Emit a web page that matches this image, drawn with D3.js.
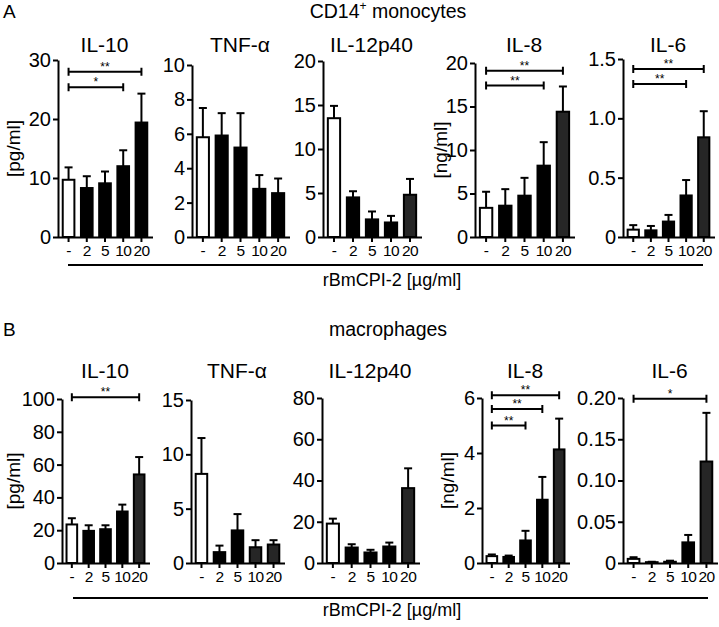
<!DOCTYPE html>
<html>
<head>
<meta charset="utf-8">
<script src="https://cdn.jsdelivr.net/npm/d3@7"></script>
<style>
  body { margin: 0; background: #fff; }
  svg { font-family: Arial, "Liberation Sans", sans-serif; }
</style>
</head>
<body>
<div id="chart"></div>
<script>
// doses of rBmCPI-2 (x categories) and the measured cytokines
const doses = ["-", "2", "5", "10", "20"];
const cytokines = ["IL-10", "TNF-α", "IL-12p40", "IL-8", "IL-6"];
const units = ["[pg/ml]", null, null, "[ng/ml]", null];

// A : CD14+ monocytes
const monoMeans = [
    [9.7, 8.3, 9.1, 12.0, 19.4],
    [5.8, 5.9, 5.2, 2.8, 2.55],
    [13.5, 4.5, 2.0, 1.65, 4.8],
    [3.35, 3.6, 4.75, 8.2, 14.4],
    [0.062, 0.056, 0.13, 0.35, 0.84]
];
const monoErr = [
    [11.8, 10.3, 11.1, 14.7, 24.3],
    [7.5, 7.2, 7.2, 3.6, 3.4],
    [14.9, 5.2, 2.9, 2.4, 6.6],
    [5.2, 5.5, 6.8, 10.9, 17.3],
    [0.10, 0.093, 0.186, 0.48, 1.06]
];
const monoTicks = [[0, 10, 20, 30], [0, 2, 4, 6, 8, 10], [0, 5, 10, 15, 20], [0, 5, 10, 15, 20], [0, 0.5, 1.0, 1.5]];
const monoTickLabels = [["0", "10", "20", "30"], ["0", "2", "4", "6", "8", "10"], ["0", "5", "10", "15", "20"],
    ["0", "5", "10", "15", "20"], ["0", "0.5", "1.0", "1.5"]];
const monoSig = [
    [{ from: 0, to: 4, y: 28.0, label: "**" }, { from: 0, to: 3, y: 25.4, label: "*" }],
    [], [],
    [{ from: 0, to: 4, y: 19.1, label: "**" }, { from: 0, to: 3, y: 17.4, label: "**" }],
    [{ from: 0, to: 4, y: 1.415, label: "**" }, { from: 0, to: 3, y: 1.29, label: "**" }]
];

// B : macrophages
const macroMeans = [
    [23.5, 19.6, 20.6, 31.4, 54.0],
    [8.2, 1.0, 3.0, 1.45, 1.7],
    [19.1, 7.5, 5.1, 8.0, 36.3],
    [0.25, 0.22, 0.82, 2.3, 4.13],
    [0.005, 0.001, 0.0015, 0.025, 0.123]
];
const macroErr = [
    [27.3, 23.0, 23.0, 35.6, 64.6],
    [11.5, 1.6, 4.5, 2.1, 2.1],
    [21.5, 9.1, 6.4, 9.9, 45.9],
    [0.31, 0.27, 1.17, 3.13, 5.25],
    [0.007, 0.0015, 0.0028, 0.034, 0.182]
];
const macroTicks = [[0, 20, 40, 60, 80, 100], [0, 5, 10, 15], [0, 20, 40, 60, 80], [0, 2, 4, 6], [0, 0.05, 0.10, 0.15, 0.20]];
const macroTickLabels = [["0", "20", "40", "60", "80", "100"], ["0", "5", "10", "15"], ["0", "20", "40", "60", "80"],
    ["0", "2", "4", "6"], ["0", "0.05", "0.10", "0.15", "0.20"]];
const macroSig = [
    [{ from: 0, to: 4, y: 101, label: "**" }],
    [], [],
    [{ from: 0, to: 4, y: 6.1, label: "**" }, { from: 0, to: 3, y: 5.6, label: "**" }, { from: 0, to: 2, y: 5.0, label: "**" }],
    [{ from: 0, to: 4, y: 0.199, label: "*" }]
];

// layout
const width = 719;
const height = 627;

const rows = [
    {
        letter: "A", titleY: 18, subY: 52,
        axisX: [58, 192, 323, 475, 623], plotW: [93, 96, 97, 98, 90],
        top: [60, 65, 61, 63, 59], bottom: 237,
        lineY: 265, lineX: [68, 703], xlabY: 286, unitX: [13, 440],
        means: monoMeans, err: monoErr, ticks: monoTicks, tickLabels: monoTickLabels, sig: monoSig,
        grey: [[], [], [4], [4], [4]]
    },
    {
        letter: "B", titleY: 336, subY: 378,
        axisX: [62, 191, 322, 482, 623], plotW: [86, 92, 96, 86, 93],
        top: [399, 400, 398, 398, 398], bottom: 563,
        lineY: 598, lineX: [73, 708], xlabY: 616, unitX: [13, 447],
        means: macroMeans, err: macroErr, ticks: macroTicks, tickLabels: macroTickLabels, sig: macroSig,
        grey: [[4], [3, 4], [4], [4], [4]]
    }
];

const svg = d3.select("#chart").append("svg")
    .attr("width", width)
    .attr("height", height)
    .attr("viewBox", [0, 0, width, height]);

rows.forEach((row, r) => {
    // panel letter
    svg.append("text")
        .attr("x", 3)
        .attr("y", row.titleY)
        .attr("font-size", 19)
        .text(row.letter);

    // panel title
    const t = svg.append("text")
        .attr("x", 388)
        .attr("y", row.titleY)
        .attr("text-anchor", "middle")
        .attr("font-size", 19.5);
    if (r === 0) {
        t.append("tspan").text("CD14");
        t.append("tspan").attr("font-size", 12).attr("dy", -8).text("+");
        t.append("tspan").attr("dy", 8).text(" monocytes");
    } else {
        t.text("macrophages");
    }

    cytokines.forEach((name, i) => {
        const x0 = row.axisX[i];
        const x = d3.scaleBand()
            .domain(doses)
            .range([x0 + 1, x0 + row.plotW[i]])
            .paddingInner(0.25)
            .paddingOuter(0.15);

        const ticks = row.ticks[i];
        const y = d3.scaleLinear()
            .domain([0, ticks[ticks.length - 1]])
            .range([row.bottom, row.top[i]]);

        const g = svg.append("g");

        const data = doses.map((d, j) => ({ dose: d, j: j, mean: row.means[i][j], err: row.err[i][j] }));
        const cx = d => x(d.dose) + x.bandwidth() / 2;

        // error bars (upper only)
        g.selectAll(".err")
            .data(data)
            .join("line")
            .attr("x1", cx)
            .attr("x2", cx)
            .attr("y1", d => y(d.mean))
            .attr("y2", d => y(d.err))
            .attr("stroke", "#000")
            .attr("stroke-width", 2);
        g.selectAll(".cap")
            .data(data)
            .join("line")
            .attr("x1", d => cx(d) - 4)
            .attr("x2", d => cx(d) + 4)
            .attr("y1", d => y(d.err))
            .attr("y2", d => y(d.err))
            .attr("stroke", "#000")
            .attr("stroke-width", 2);

        g.selectAll(".bar")
            .data(data)
            .join("rect")
            .attr("x", d => x(d.dose) + 1)
            .attr("width", x.bandwidth() - 2)
            .attr("y", d => y(d.mean))
            .attr("height", d => Math.max(0, y(0) - y(d.mean)))
            .attr("fill", d => d.j === 0 ? "#fff" : (row.grey[i].includes(d.j) ? "#262626" : "#000"))
            .attr("stroke", "#000")
            .attr("stroke-width", 2);

        // y axis
        const ya = g.append("g")
            .attr("transform", `translate(${x0},0)`)
            .call(d3.axisLeft(y)
                .tickValues(ticks)
                .tickFormat((d, k) => row.tickLabels[i][k])
                .tickSize(5)
                .tickSizeOuter(0));
        ya.select(".domain").attr("stroke-width", 2);
        ya.selectAll(".tick line").attr("stroke-width", 2);
        ya.selectAll(".tick text")
            .attr("font-size", 20)
            .attr("font-family", "Arial, 'Liberation Sans', sans-serif")
            .attr("x", -7)
            .attr("fill", "#000");

        // x axis
        const xa = g.append("g")
            .attr("transform", `translate(0,${row.bottom})`)
            .call(d3.axisBottom(x)
                .tickSize(5)
                .tickSizeOuter(0));
        xa.select(".domain").attr("d", `M${x0},0.5H${x0 + row.plotW[i] + 2}`).attr("stroke-width", 2);
        xa.selectAll(".tick line").attr("stroke-width", 2);
        xa.selectAll(".tick text")
            .attr("font-size", 15.5)
            .attr("font-family", "Arial, 'Liberation Sans', sans-serif")
            .attr("letter-spacing", -0.6)
            .attr("y", 8)
            .attr("fill", "#000");

        // cytokine title
        svg.append("text")
            .attr("x", x0 + row.plotW[i] / 2)
            .attr("y", row.subY)
            .attr("text-anchor", "middle")
            .attr("font-size", 21)
            .text(name);

        // unit label
        if (units[i]) {
            const ux = i === 0 ? row.unitX[0] : row.unitX[1];
            const uy = (row.top[i] + row.bottom) / 2;
            svg.append("text")
                .attr("transform", `translate(${ux},${uy}) rotate(-90)`)
                .attr("text-anchor", "middle")
                .attr("dominant-baseline", "central")
                .attr("font-size", 19)
                .text(units[i]);
        }

        // significance brackets
        row.sig[i].forEach(s => {
            const xa1 = x(doses[s.from]) + x.bandwidth() / 2;
            const xa2 = x(doses[s.to]) + x.bandwidth() / 2;
            const yy = y(s.y);
            g.append("path")
                .attr("d", `M${xa1},${yy - 4}V${yy + 4}M${xa1},${yy}H${xa2}M${xa2},${yy - 4}V${yy + 4}`)
                .attr("fill", "none")
                .attr("stroke", "#000")
                .attr("stroke-width", 2);
            g.append("text")
                .attr("x", (xa1 + xa2) / 2)
                .attr("y", yy - 1)
                .attr("text-anchor", "middle")
                .attr("font-size", 12)
                .text(s.label);
        });
    });

    // dose line and label
    svg.append("line")
        .attr("x1", row.lineX[0])
        .attr("x2", row.lineX[1])
        .attr("y1", row.lineY)
        .attr("y2", row.lineY)
        .attr("stroke", "#000")
        .attr("stroke-width", 2);
    svg.append("text")
        .attr("x", 392)
        .attr("y", row.xlabY)
        .attr("text-anchor", "middle")
        .attr("font-size", 18)
        .text("rBmCPI-2 [µg/ml]");
});
</script>
</body>
</html>
